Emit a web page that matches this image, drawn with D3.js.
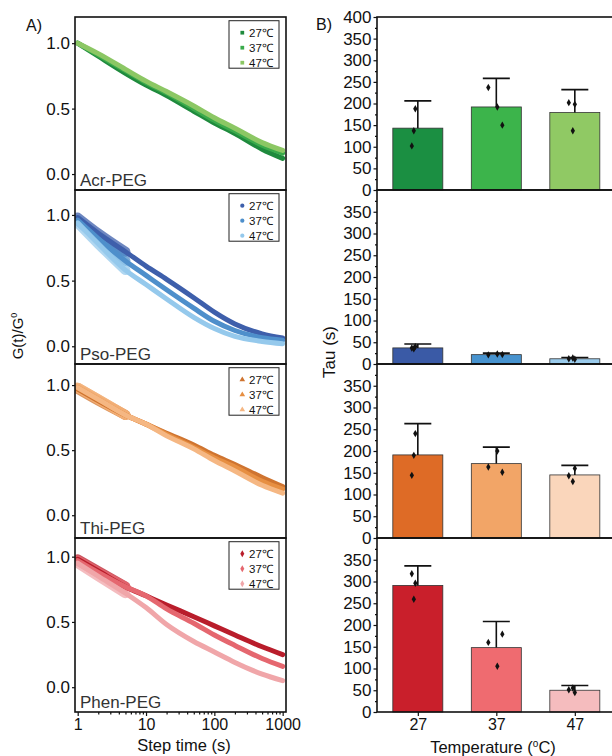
<html>
<head>
<script src="https://d3js.org/d3.v7.min.js"></script>
<style>
  body { margin: 0; background: #fff; }
  text { font-family: "Liberation Sans", Arial, sans-serif; fill: #111; }
  .tick text { font-size: 17px; fill: #111; }
  .xaxis .tick text { font-size: 16px; }
  .tick line { stroke: #111; stroke-width: 1.2; }
  .frame { fill: none; stroke: #111; stroke-width: 1.6; }
</style>
</head>
<body>
<svg id="chart" width="612" height="756"></svg>
<script>
// ---- data ----
const samples = ["Acr-PEG", "Pso-PEG", "Thi-PEG", "Phen-PEG"];
const temps = [27, 37, 47];
const tempLabels = ["27\u2103", "37\u2103", "47\u2103"];
const stepTimes = [1, 2, 5, 10, 20, 50, 100, 200, 500, 1000];

// G(t)/G0 per sample, per temperature (27, 37, 47)
const relaxAcr = [
  [1.00, 0.90, 0.77, 0.68, 0.60, 0.48, 0.39, 0.31, 0.19, 0.12],
  [1.00, 0.91, 0.79, 0.70, 0.62, 0.50, 0.41, 0.33, 0.22, 0.16],
  [1.00, 0.92, 0.80, 0.71, 0.63, 0.52, 0.43, 0.35, 0.24, 0.18]
];
const relaxPso = [
  [0.98, 0.86, 0.72, 0.61, 0.51, 0.37, 0.26, 0.17, 0.095, 0.063],
  [0.96, 0.82, 0.65, 0.54, 0.43, 0.29, 0.19, 0.12, 0.065, 0.046],
  [0.94, 0.78, 0.58, 0.47, 0.36, 0.22, 0.135, 0.075, 0.037, 0.02]
];
const relaxThi = [
  [0.97, 0.88, 0.77, 0.70, 0.63, 0.54, 0.46, 0.39, 0.29, 0.22],
  [0.98, 0.89, 0.77, 0.70, 0.62, 0.52, 0.44, 0.37, 0.26, 0.20],
  [0.98, 0.89, 0.77, 0.70, 0.61, 0.51, 0.42, 0.34, 0.23, 0.17]
];
const relaxPhen = [
  [0.98, 0.89, 0.77, 0.70, 0.63, 0.54, 0.47, 0.40, 0.31, 0.25],
  [0.97, 0.88, 0.77, 0.70, 0.60, 0.49, 0.40, 0.32, 0.22, 0.16],
  [0.95, 0.85, 0.72, 0.61, 0.48, 0.35, 0.27, 0.19, 0.10, 0.05]
];
const relax = [relaxAcr, relaxPso, relaxThi, relaxPhen];

// Tau (s): bar mean, top of error bar, individual replicates
const tauMean = [[143, 192, 179], [37, 21.5, 12], [191, 171, 145], [291, 148, 50]];
const tauUpper = [[206, 258, 232], [46, 25, 15], [263, 209, 167], [336, 208, 61]];
const tauPoints = [
  [[188, 137, 102], [237, 192, 150], [202, 198, 137]],
  [[40, 35, 37], [21, 23, 22], [12, 11, 14]],
  [[240, 190, 144], [163, 200, 151], [143, 160, 130]],
  [[296, 259, 318], [160, 105, 179], [51, 45, 55]]
];

const gTicks = [0, 0.5, 1.0];
const gDomains = [[-0.122, 1.2], [-0.135, 1.19], [-0.175, 1.162], [-0.19, 1.143]];
const timeTicks = [1, 10, 100, 1000];
const tauTicks = [0, 50, 100, 150, 200, 250, 300, 350];

// ---- styling ----
const lineColors = [
  ["#1f8a3d", "#3aaa4b", "#8cc764"],
  ["#3e5fab", "#4e8fcb", "#95c9ec"],
  ["#cf7430", "#e78f42", "#f5b783"],
  ["#b91d2b", "#e5676f", "#f0a6a9"]
];
const barColors = [
  ["#1b8f42", "#3cb44b", "#90c964"],
  ["#3a5aa6", "#4793cf", "#9acbec"],
  ["#de6b26", "#f2a567", "#fad6bb"],
  ["#c91f2b", "#ef6b70", "#f5bcbe"]
];
const symbols = [d3.symbolSquare, d3.symbolCircle, d3.symbolTriangle, d3.symbolDiamond];
const jitter = [[-2.5, -4, -6], [-8, 1, 6], [-6, 0, -2]];

const svg = d3.select("#chart");
const rows = [17, 190, 364, 538, 712];
const left = {x0: 75, x1: 286};
const right = {x0: 377, x1: 620};

const xTime = d3.scaleLog().domain([0.913, 1119]).range([left.x0, left.x1]);
const xTemp = d3.scaleLinear().domain([21.8, 51.8]).range([377, 612.5]);

const defs = svg.append("defs");

samples.forEach((name, i) => {
  const top = rows[i], bottom = rows[i + 1];

  // ---------- A) stress relaxation ----------
  const y = d3.scaleLinear().domain(gDomains[i]).range([bottom, top]);
  const g = svg.append("g");

  defs.append("clipPath").attr("id", "clip" + i)
    .append("rect").attr("x", left.x0).attr("y", top)
    .attr("width", left.x1 - left.x0).attr("height", bottom - top);

  const line = d3.line()
    .x((d, k) => xTime(stepTimes[k]))
    .y(d => y(d))
    .curve(d3.curveMonotoneX);

  const plot = g.append("g").attr("clip-path", "url(#clip" + i + ")");

  // the early, noisy part of the measurement reads as a broad band
  if (i > 0) {
    plot.selectAll(".band")
      .data(relax[i])
      .join("path")
      .attr("class", "band")
      .attr("d", d => line(d.slice(0, 3)))
      .attr("fill", "none")
      .attr("stroke", (d, k) => lineColors[i][k])
      .attr("stroke-width", 10)
      .attr("stroke-linecap", "round")
      .attr("opacity", 0.75);
  }

  plot.selectAll(".curve")
    .data(relax[i])
    .join("path")
    .attr("class", "curve")
    .attr("d", line)
    .attr("fill", "none")
    .attr("stroke", (d, k) => lineColors[i][k])
    .attr("stroke-width", 5)
    .attr("stroke-linecap", "round")
    .attr("stroke-linejoin", "round");

  g.append("g")
    .attr("transform", `translate(${left.x0},0)`)
    .call(d3.axisLeft(y).tickValues(gTicks).tickFormat(d3.format(".1f")).tickSize(3).tickPadding(2))
    .call(a => a.select(".domain").remove());

  g.append("rect").attr("class", "frame")
    .attr("x", left.x0).attr("y", top)
    .attr("width", left.x1 - left.x0).attr("height", bottom - top);

  g.append("text")
    .attr("x", 80).attr("y", bottom - 4)
    .style("font-size", "17px").style("fill", "#333")
    .text(name);

  // legend
  const lg = g.append("g").attr("transform", `translate(229,${top + 3.7})`);
  lg.append("rect").attr("width", 50).attr("height", 47.5)
    .attr("fill", "#fff").attr("stroke", "#222").attr("stroke-width", 1);
  temps.forEach((t, k) => {
    lg.append("path")
      .attr("transform", `translate(13.3,${12 + k * 15})`)
      .attr("d", d3.symbol().type(symbols[i]).size(14)())
      .attr("fill", lineColors[i][k]);
    lg.append("text")
      .attr("x", 20).attr("y", 12 + k * 15 + 4)
      .style("font-size", "11.5px")
      .text(tempLabels[k]);
  });

  // ---------- B) Tau bars ----------
  const yb = d3.scaleLinear().domain([0, 400]).range([bottom, top]);
  const b = svg.append("g");
  const ticks = i === 0 ? tauTicks.concat([400]) : tauTicks;

  b.append("g")
    .attr("transform", `translate(${right.x0},0)`)
    .call(d3.axisLeft(yb).tickValues(d3.range(25, 400, 50)).tickFormat("").tickSize(2))
    .call(a => a.select(".domain").remove());
  b.append("g")
    .attr("transform", `translate(${right.x0},0)`)
    .call(d3.axisLeft(yb).tickValues(ticks).tickSize(3.5).tickPadding(2))
    .call(a => a.select(".domain").remove());

  b.selectAll(".bar")
    .data(tauMean[i])
    .join("rect")
    .attr("class", "bar")
    .attr("x", (d, k) => xTemp(temps[k]) - 25)
    .attr("width", 50)
    .attr("y", d => yb(d))
    .attr("height", d => yb(0) - yb(d))
    .attr("fill", (d, k) => barColors[i][k])
    .attr("stroke", "#333")
    .attr("stroke-width", 0.8);

  b.selectAll(".err")
    .data(tauUpper[i])
    .join("path")
    .attr("class", "err")
    .attr("d", (d, k) => {
      const cx = xTemp(temps[k]);
      return `M${cx},${yb(tauMean[i][k])}V${yb(d)}M${cx - 13.5},${yb(d)}H${cx + 13.5}`;
    })
    .attr("fill", "none")
    .attr("stroke", "#111")
    .attr("stroke-width", 1.6);

  tauPoints[i].forEach((pts, k) => {
    b.selectAll(".pt" + k)
      .data(pts)
      .join("path")
      .attr("class", "pt" + k)
      .attr("transform", (d, j) => `translate(${xTemp(temps[k]) + jitter[k][j]},${yb(d)})`)
      .attr("d", d3.symbol().type(d3.symbolDiamond).size(16)())
      .attr("fill", "#111");
  });

  b.append("rect").attr("class", "frame")
    .attr("x", right.x0).attr("y", top)
    .attr("width", right.x1 - right.x0).attr("height", bottom - top);
});

// bottom axes
const minor = [];
[1, 10, 100].forEach(dec => d3.range(2, 10).forEach(m => minor.push(dec * m)));
svg.append("g")
  .attr("transform", `translate(0,${rows[4]})`)
  .call(d3.axisBottom(xTime).tickValues(minor).tickFormat("").tickSize(2.5))
  .call(a => a.select(".domain").remove());
svg.append("g").attr("class", "xaxis")
  .attr("transform", `translate(0,${rows[4]})`)
  .call(d3.axisBottom(xTime).tickValues(timeTicks).tickFormat(d3.format("d")).tickSize(4).tickPadding(3))
  .call(a => a.select(".domain").remove());

svg.append("g").attr("class", "xaxis")
  .attr("transform", `translate(0,${rows[4]})`)
  .call(d3.axisBottom(xTemp).tickValues(temps).tickSize(4).tickPadding(3))
  .call(a => a.select(".domain").remove());

// titles
svg.append("text").attr("x", 184).attr("y", 751)
  .attr("text-anchor", "middle").style("font-size", "16.5px").text("Step time (s)");

const tt = svg.append("text").attr("x", 493).attr("y", 753)
  .attr("text-anchor", "middle").style("font-size", "16.5px");
tt.append("tspan").text("Temperature (");
tt.append("tspan").attr("dy", -6).style("font-size", "10px").text("o");
tt.append("tspan").attr("dy", 6).text("C)");

const gl = svg.append("text")
  .attr("transform", "translate(23,336) rotate(-90)")
  .attr("text-anchor", "middle").style("font-size", "15px");
gl.append("tspan").text("G(t)/G");
gl.append("tspan").attr("dy", -6).style("font-size", "9px").text("0");

svg.append("text")
  .attr("transform", "translate(335,352) rotate(-90)")
  .attr("text-anchor", "middle").style("font-size", "17px").text("Tau (s)");

svg.append("text").attr("x", 26).attr("y", 31).style("font-size", "16px").text("A)");
svg.append("text").attr("x", 316).attr("y", 30).style("font-size", "16px").text("B)");
</script>
</body>
</html>
